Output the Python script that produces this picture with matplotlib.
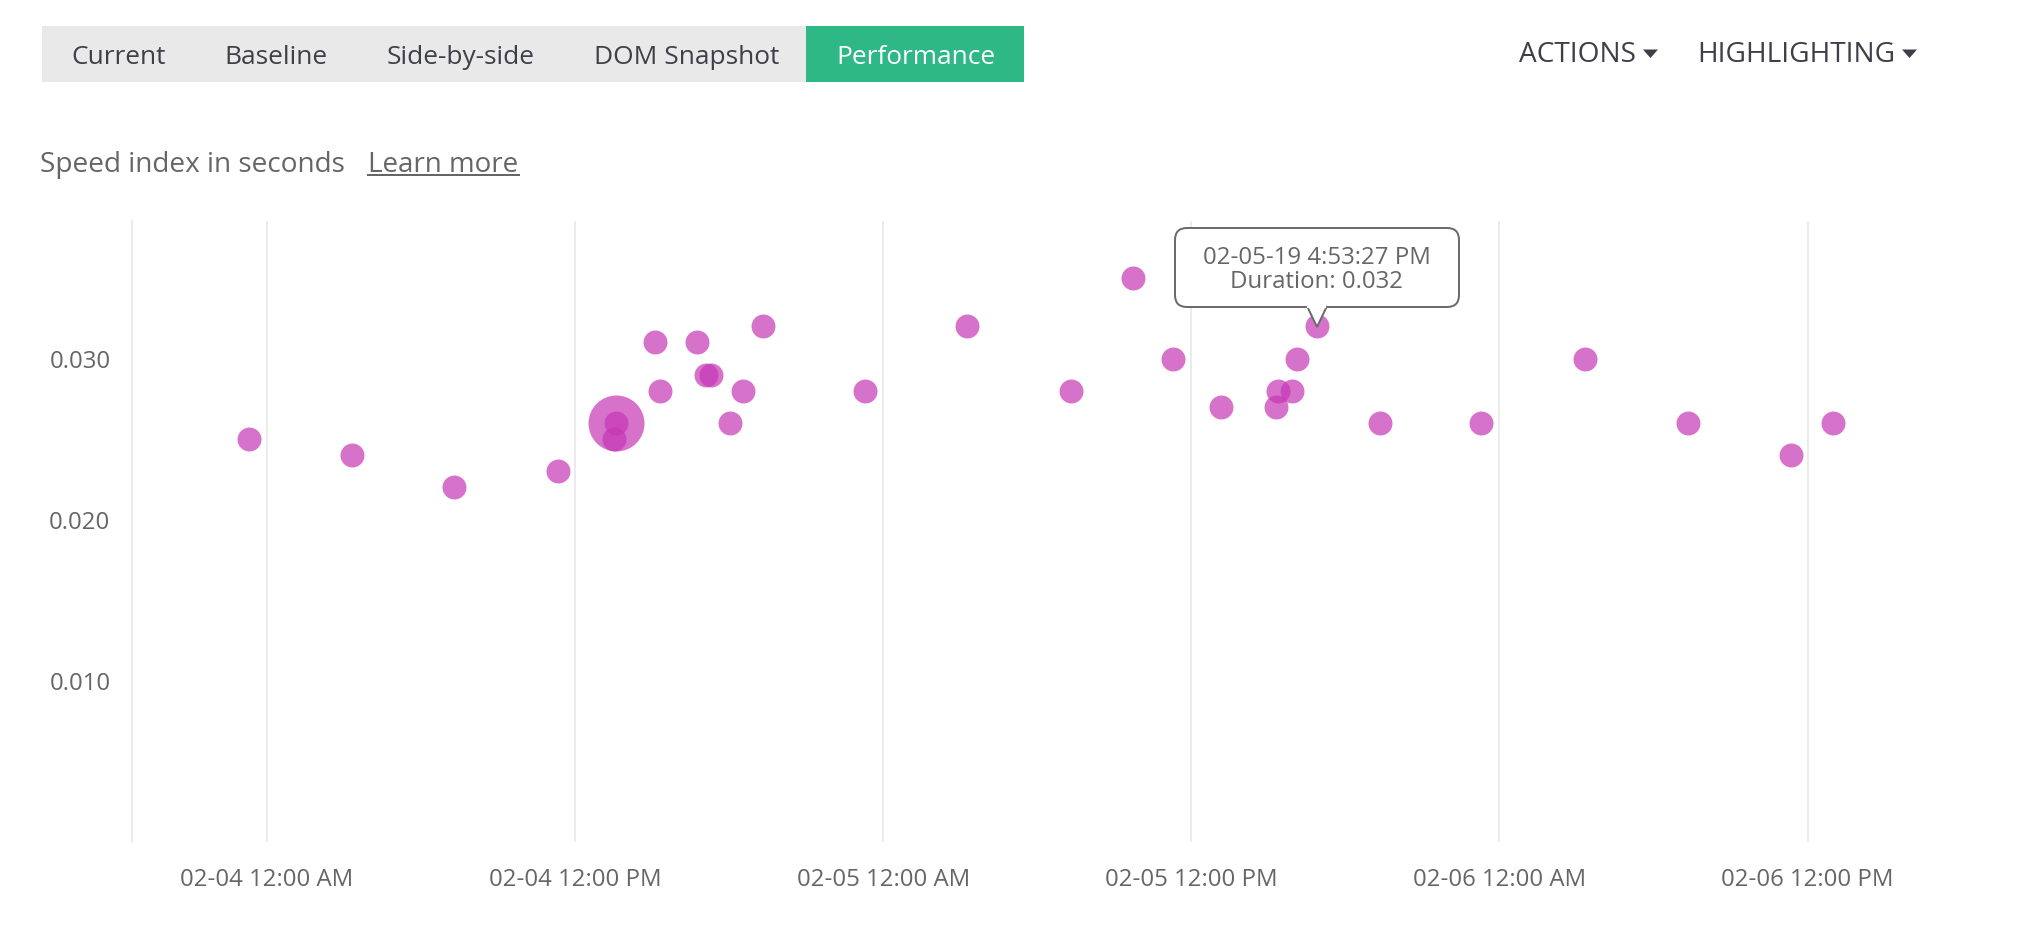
"""Speed index scatter from the performance tab."""

import matplotlib
matplotlib.use("Agg")
import matplotlib.dates as mdates
import matplotlib.pyplot as plt
import pandas as pd
from matplotlib.patches import FancyBboxPatch, Polygon, Rectangle

plt.rcParams["font.family"] = ["Open Sans", "DejaVu Sans"]

TABS = ["Current", "Baseline", "Side-by-side", "DOM Snapshot", "Performance"]
MENUS = ["ACTIONS", "HIGHLIGHTING"]

TIMES = [
    "2019-02-03 23:19", "2019-02-04 03:18", "2019-02-04 07:18", "2019-02-04 11:19",
    "2019-02-04 13:30", "2019-02-04 13:35", "2019-02-04 15:06", "2019-02-04 15:18",
    "2019-02-04 16:46", "2019-02-04 17:06", "2019-02-04 17:18", "2019-02-04 18:03",
    "2019-02-04 18:32", "2019-02-04 19:20", "2019-02-04 23:17", "2019-02-05 03:16",
    "2019-02-05 07:18", "2019-02-05 09:43", "2019-02-05 11:17", "2019-02-05 13:09",
    "2019-02-05 15:17", "2019-02-05 15:22", "2019-02-05 15:56", "2019-02-05 16:08",
    "2019-02-05 16:53", "2019-02-05 19:22", "2019-02-05 23:17", "2019-02-06 03:21",
    "2019-02-06 07:20", "2019-02-06 11:21", "2019-02-06 12:59",
]
DURATIONS = [
    0.025, 0.024, 0.022, 0.023,
    0.025, 0.026, 0.031, 0.028,
    0.031, 0.029, 0.029, 0.026,
    0.028, 0.032, 0.028, 0.032,
    0.028, 0.035, 0.030, 0.027,
    0.027, 0.028, 0.028, 0.030,
    0.032, 0.026, 0.026, 0.030,
    0.026, 0.024, 0.026,
]
SELECTED_TIME = ["2019-02-04 13:35"]
SELECTED_DURATION = [0.026]

Y_TICKS = [0.010, 0.020, 0.030]
X_TICKS = [
    "2019-02-04 00:00", "2019-02-04 12:00", "2019-02-05 00:00",
    "2019-02-05 12:00", "2019-02-06 00:00", "2019-02-06 12:00",
]
X_LABELS = [
    "02-04 12:00 AM", "02-04 12:00 PM", "02-05 12:00 AM",
    "02-05 12:00 PM", "02-06 12:00 AM", "02-06 12:00 PM",
]
TOOLTIP = "02-05-19 4:53:27 PM\nDuration: 0.032"

W, H = 2030, 932
TEXT = "#666666"
DARK = "#3f3f4a"
GRID = "#ebebeb"
DOT = "#c736b6"

fig = plt.figure(figsize=(W / 100, H / 100), dpi=100, facecolor="white")

# chart area, placed in pixels, zero sits just above the bottom edge
left, right, top, bottom = 132, 1900, 221, 842
zero_px = 841.5
ax = fig.add_axes([left / W, 1 - bottom / H, (right - left) / W, (bottom - top) / H])
px_per_hour = 308.1 / 12
start = pd.Timestamp("2019-02-04 00:00") - pd.Timedelta(hours=(267 - left) / px_per_hour)
end = pd.Timestamp("2019-02-04 00:00") + pd.Timedelta(hours=(right - 267) / px_per_hour)
ax.set_xlim(mdates.date2num(start), mdates.date2num(end))
ax.set_ylim((zero_px - bottom) / 16100, (zero_px - top) / 16100)

ax.scatter(pd.to_datetime(SELECTED_TIME), SELECTED_DURATION, s=1626, color=DOT, alpha=0.7, linewidths=0, zorder=3)
ax.scatter(pd.to_datetime(TIMES), DURATIONS, s=298, color=DOT, alpha=0.7, linewidths=0, zorder=3)

ax.set_xticks(mdates.date2num(pd.to_datetime(X_TICKS)))
ax.set_xticklabels(X_LABELS)
ax.set_yticks(Y_TICKS)
ax.set_yticklabels([f"{v:.3f}" for v in Y_TICKS])
ax.tick_params(axis="x", length=0, pad=18.5, labelsize=17.3, labelcolor=TEXT)
ax.tick_params(axis="y", length=0, pad=15.5, labelsize=17.3, labelcolor=TEXT)
ax.grid(True, axis="x", color=GRID, linewidth=1.44, zorder=0)
for side in ["top", "right", "bottom"]:
    ax.spines[side].set_visible(False)
ax.spines["left"].set_color(GRID)
ax.spines["left"].set_linewidth(1.44)

# page furniture around the chart
ui = fig.add_axes([0, 0, 1, 1], facecolor="none")
ui.set_xlim(0, W)
ui.set_ylim(H, 0)
ui.axis("off")

ui.add_patch(Rectangle((42, 26), 764, 56, facecolor="#e9e9e9", edgecolor="none"))
ui.add_patch(Rectangle((806, 26), 218, 56, facecolor="#2db886", edgecolor="none"))
tab_x = [71, 224, 387, 594, 836]
for name, x in zip(TABS, tab_x):
    color = "white" if name == "Performance" else DARK
    ui.text(x, 57, name, color=color, fontsize=18.9, ha="left", va="center")

for name, x, caret in zip(MENUS, [1519, 1697], [1643, 1902]):
    ui.text(x, 55, name, color=DARK, fontsize=20.2, ha="left", va="center")
    ui.add_patch(Polygon([(caret, 49.5), (caret + 15, 49.5), (caret + 7.5, 58)], facecolor=DARK, edgecolor="none"))

ui.text(40, 165, "Speed index in seconds", color=TEXT, fontsize=20.2, ha="left", va="center")
ui.text(368, 165, "Learn more", color=TEXT, fontsize=20, ha="left", va="center")
ui.plot([368, 519], [175, 175], color=TEXT, linewidth=1.44)

# tooltip
ui.add_patch(FancyBboxPatch((1175 + 12, 228 + 12), 284 - 24, 79 - 24, boxstyle="round,pad=12,rounding_size=12",
                            facecolor="white", edgecolor="#6b6b6b", linewidth=1.44, zorder=5))
ui.add_patch(Polygon([(1307, 306), (1317, 327), (1327, 306)], closed=False, facecolor="white",
                     edgecolor="#6b6b6b", linewidth=1.44, zorder=6))
ui.plot([1308.5, 1325.5], [306.5, 306.5], color="white", linewidth=1.6, zorder=7)
ui.text(1317, 270, TOOLTIP, color=TEXT, fontsize=17.3, ha="center", va="center", linespacing=0.95, zorder=8)

fig.savefig("out.png", dpi=100)
